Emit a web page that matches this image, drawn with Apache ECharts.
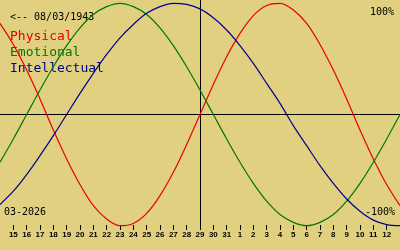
<!DOCTYPE html>
<html>
<head>
<meta charset="utf-8">
<script src="https://cdn.jsdelivr.net/npm/echarts@6/dist/echarts.min.js"></script>
<style>
html,body{margin:0;padding:0;background:#e0d080;}
#chart{width:400px;height:250px;}
</style>
</head>
<body>
<div id="chart"></div>
<script>
// Days: 14 March 2026 .. 13 April 2026
const days = ['14','15','16','17','18','19','20','21','22','23','24','25','26','27','28','29','30','31','1','2','3','4','5','6','7','8','9','10','11','12','13'];
const centerDay = '29';
const physical = [82,63,40,14,-14,-40,-63,-82,-94,-100,-98,-89,-73,-52,-27,0,27,52,73,89,98,100,94,82,63,40,14,-14,-40,-63,-82];
const emotional = [-43,-22,0,22,43,62,78,90,97,100,97,90,78,62,43,22,0,-22,-43,-62,-78,-90,-97,-100,-97,-90,-78,-62,-43,-22,0];
const intellectual = [-81,-69,-54,-37,-19,0,19,37,54,69,81,91,97,100,99,95,87,76,62,46,28,10,-10,-28,-46,-62,-76,-87,-95,-99,-100];
const seriesNames = ['Physical','Emotional','Intellectual'];
const seriesColors = ['#e80000','#007800','#000090'];
const birthText = '<-- 08/03/1943';
const monthText = '03-2026';
const topLabel = '100%';
const bottomLabel = '-100%';

const chart = echarts.init(document.getElementById('chart'), null, {renderer:'canvas'});
const mono = '"DejaVu Sans Mono", "Liberation Mono", monospace';
const lastIdx = days.length - 1;
const values = [physical, emotional, intellectual];

const series = values.map((d, k) => ({
  name: seriesNames[k],
  type: 'line',
  data: d,
  smooth: 0.35,
  symbol: 'none',
  lineStyle: {color: seriesColors[k], width: 1.2},
  z: 3
}));
series[0].markLine = {
  silent: true,
  symbol: 'none',
  label: {show: false},
  lineStyle: {color: '#000', width: 1, type: 'solid'},
  data: [{yAxis: 0}, {xAxis: centerDay}],
  z: 2
};

chart.setOption({
  animation: false,
  backgroundColor: '#e0d080',
  grid: {left: 0, right: 0, top: 0, bottom: 21},
  xAxis: {
    type: 'category',
    data: days,
    boundaryGap: false,
    offset: -4,
    axisLine: {show: false, onZero: false},
    axisTick: {show: true, length: 5, interval: (i) => i > 0 && i < lastIdx, lineStyle: {color: '#000', width: 1}},
    axisLabel: {interval: (i) => i > 0 && i < lastIdx, margin: 6, color: '#000',
      fontFamily: '"Liberation Sans", Arial, sans-serif', fontWeight: 'bold', fontSize: 8},
    splitLine: {show: false}
  },
  yAxis: {type: 'value', min: -103, max: 103, show: false, splitLine: {show: false}},
  series: series,
  graphic: [
    {type: 'text', x: 10, y: 17, style: {text: birthText, fill: '#000', font: '10px ' + mono, verticalAlign: 'middle'}},
    {type: 'text', x: 10, y: 37, style: {text: seriesNames[0], fill: seriesColors[0], font: '13px ' + mono, verticalAlign: 'middle'}},
    {type: 'text', x: 10, y: 53, style: {text: seriesNames[1], fill: seriesColors[1], font: '13px ' + mono, verticalAlign: 'middle'}},
    {type: 'text', x: 10, y: 69, style: {text: seriesNames[2], fill: seriesColors[2], font: '13px ' + mono, verticalAlign: 'middle'}},
    {type: 'text', x: 394, y: 12.5, style: {text: topLabel, fill: '#000', font: '10px ' + mono, align: 'right', verticalAlign: 'middle'}},
    {type: 'text', x: 395, y: 212.5, style: {text: bottomLabel, fill: '#000', font: '10px ' + mono, align: 'right', verticalAlign: 'middle'}},
    {type: 'text', x: 4, y: 212.5, style: {text: monthText, fill: '#000', font: '10px ' + mono, verticalAlign: 'middle'}}
  ]
});
</script>
</body>
</html>
